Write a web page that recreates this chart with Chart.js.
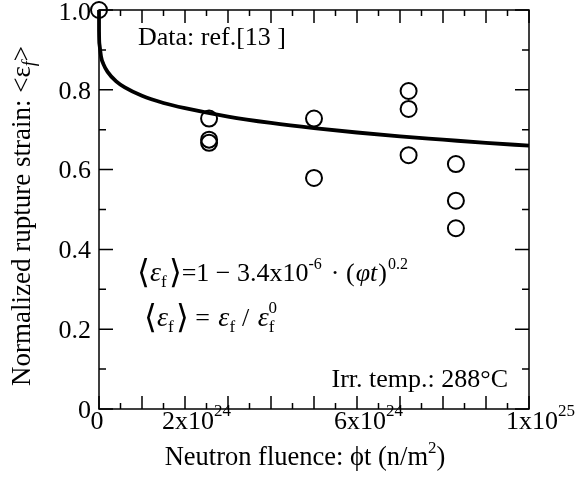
<!DOCTYPE html>
<html>
<head>
<meta charset="utf-8">
<script src="https://cdn.jsdelivr.net/npm/chart.js@4/dist/chart.umd.min.js"></script>
<style>
  html, body { margin: 0; padding: 0; background: #fff; }
  #c { display: block; }
</style>
</head>
<body>
<canvas id="c" width="580" height="483"></canvas>
<script>
// measured points (fluence in n/m^2, normalized rupture strain)
const dataX = [0, 2.56e24, 2.56e24, 2.56e24, 5.0e24, 5.0e24, 7.2e24, 7.2e24, 7.2e24, 8.3e24, 8.3e24, 8.3e24];
const dataY = [1.0, 0.728, 0.675, 0.667, 0.728, 0.579, 0.797, 0.752, 0.636, 0.614, 0.522, 0.453];

// fit curve
const fitX = [0, 1e21, 1e22, 5e22, 1e23, 2e23, 4e23, 6e23, 1e24, 1.5e24, 2e24, 3e24, 4e24, 5e24, 6e24, 7e24, 8e24, 9e24, 1e25];
const fitY = [1.0, 0.946, 0.915, 0.882, 0.865, 0.845, 0.821, 0.806, 0.785, 0.767, 0.754, 0.733, 0.717, 0.704, 0.693, 0.683, 0.675, 0.667, 0.660];

// axis ticks
const xMajor = [0, 1e24, 2e24, 3e24, 4e24, 5e24, 6e24, 7e24, 8e24, 9e24, 1e25];
const xMinor = [5e23, 1.5e24, 2.5e24, 3.5e24, 4.5e24, 5.5e24, 6.5e24, 7.5e24, 8.5e24, 9.5e24];
const xLabels = [[0, '0', ''], [2e24, '2x10', '24'], [6e24, '6x10', '24'], [1e25, '1x10', '25']];
const yMajor = [0, 0.2, 0.4, 0.6, 0.8, 1.0];
const yMinor = [0.1, 0.3, 0.5, 0.7, 0.9];
const yLabels = ['0', '0.2', '0.4', '0.6', '0.8', '1.0'];

const SERIF = '"Liberation Serif", "Times New Roman", serif';
const f = (size, style) => `${style || ''} ${size}px ${SERIF}`;

// draw a row of text runs (for super/subscripts)
function runs(ctx, x, y, parts, align){
  let w = 0;
  parts.forEach(p => { ctx.font = f(p.s, p.st); w += ctx.measureText(p.t).width + (p.gap || 0); });
  let cx = align === 'center' ? x - w / 2 : align === 'right' ? x - w : x;
  ctx.textBaseline = 'alphabetic';
  ctx.textAlign = 'left';
  parts.forEach(p => {
    ctx.font = f(p.s, p.st);
    ctx.fillText(p.t, cx, y + (p.dy || 0));
    cx += ctx.measureText(p.t).width + (p.gap || 0);
  });
}

const frame = {
  id: 'frame',
  afterDraw(chart){
    const {ctx, chartArea: a, scales: {x, y}} = chart;
    ctx.save();
    ctx.strokeStyle = '#000';
    ctx.fillStyle = '#000';
    ctx.lineWidth = 1.5;
    ctx.strokeRect(a.left, a.top, a.right - a.left, a.bottom - a.top);
    ctx.beginPath();
    const tick = (vals, len) => vals.forEach(v => {
      const px = x.getPixelForValue(v);
      ctx.moveTo(px, a.bottom); ctx.lineTo(px, a.bottom - len);
      ctx.moveTo(px, a.top); ctx.lineTo(px, a.top + len);
    });
    tick(xMajor, 13); tick(xMinor, 6);
    const ytick = (vals, len) => vals.forEach(v => {
      const py = y.getPixelForValue(v);
      ctx.moveTo(a.left, py); ctx.lineTo(a.left + len, py);
      ctx.moveTo(a.right, py); ctx.lineTo(a.right - len, py);
    });
    ytick(yMajor, 14); ytick(yMinor, 7);
    ctx.stroke();

    // y tick labels
    ctx.font = f(26);
    ctx.textAlign = 'right';
    ctx.textBaseline = 'middle';
    yMajor.forEach((v, i) => ctx.fillText(yLabels[i], a.left - 8, Math.max(13, y.getPixelForValue(v) + 2)));

    // x tick labels
    xLabels.forEach(([v, base, sup]) => {
      const px = x.getPixelForValue(v);
      if(!sup){ runs(ctx, px - 2, 429, [{t: base, s: 26}], 'center'); return; }
      ctx.font = f(26);
      const bw = ctx.measureText(base).width;
      runs(ctx, px + 3 - bw / 2, 429, [{t: base, s: 26}, {t: sup, s: 17, dy: -13}], 'left');
    });

    // axis titles
    runs(ctx, 305, 465, [{t: 'Neutron fluence: \u03d5t (n/m', s: 26.5}, {t: '2', s: 17, dy: -12}, {t: ')', s: 26.5}], 'center');
    ctx.save();
    ctx.translate(30, 216);
    ctx.rotate(-Math.PI / 2);
    runs(ctx, 0, 0, [{t: 'Normalized rupture strain: <\u03b5', s: 27}, {t: 'f', s: 18, st: 'italic', dy: 5}, {t: '>', s: 27}], 'center');
    ctx.restore();

    // annotations
    runs(ctx, 138, 45, [{t: 'Data: ref.[13 ]', s: 26}], 'left');
    runs(ctx, 508, 387, [{t: 'Irr. temp.: 288\u00b0C', s: 26}], 'right');
    runs(ctx, 137, 281, [
      {t: '\u27e8', s: 33, dy: 2},
      {t: '\u03b5', s: 28, st: 'italic'},
      {t: 'f', s: 17, dy: 6, gap: 2},
      {t: '\u27e9', s: 33, dy: 2},
      {t: '=1 \u2212 3.4x10', s: 26},
      {t: '-6', s: 16, dy: -12, gap: 9},
      {t: '\u00b7 (', s: 26, gap: 1},
      {t: '\u03c6t', s: 26, st: 'italic', gap: 1},
      {t: ')', s: 26, gap: 1},
      {t: '0.2', s: 16, dy: -12}
    ], 'left');
    runs(ctx, 144, 326, [
      {t: '\u27e8', s: 33, dy: 2},
      {t: '\u03b5', s: 28, st: 'italic'},
      {t: 'f', s: 17, dy: 6, gap: 2},
      {t: '\u27e9', s: 33, dy: 2},
      {t: ' = ', s: 26, gap: 2},
      {t: '\u03b5', s: 28, st: 'italic'},
      {t: 'f', s: 17, dy: 6, gap: 7},
      {t: '/ ', s: 26, gap: 2},
      {t: '\u03b5', s: 28, st: 'italic'},
      {t: 'f', s: 17, dy: 6, gap: -6},
      {t: '0', s: 17, dy: -13}
    ], 'left');
    ctx.restore();
  }
};

new Chart(document.getElementById('c'), {
  type: 'scatter',
  data: {
    datasets: [
      {
        label: 'fit',
        data: fitX.map((v, i) => ({x: v, y: fitY[i]})),
        showLine: true,
        borderColor: '#000',
        borderWidth: 3.8,
        pointRadius: 0,
        cubicInterpolationMode: 'monotone',
        clip: false
      },
      {
        label: 'data',
        data: dataX.map((v, i) => ({x: v, y: dataY[i]})),
        pointRadius: 8,
        pointBorderWidth: 2,
        pointBorderColor: '#000',
        pointBackgroundColor: 'rgba(0,0,0,0)',
        clip: false
      }
    ]
  },
  options: {
    responsive: false,
    animation: false,
    devicePixelRatio: 1,
    layout: {padding: {left: 99, right: 51, top: 5, bottom: 74}},
    plugins: {legend: {display: false}, tooltip: {enabled: false}},
    scales: {
      x: {type: 'linear', min: 0, max: 1e25, display: false},
      y: {type: 'linear', min: 0, max: 1.0, display: false}
    }
  },
  plugins: [frame]
});
</script>
</body>
</html>
